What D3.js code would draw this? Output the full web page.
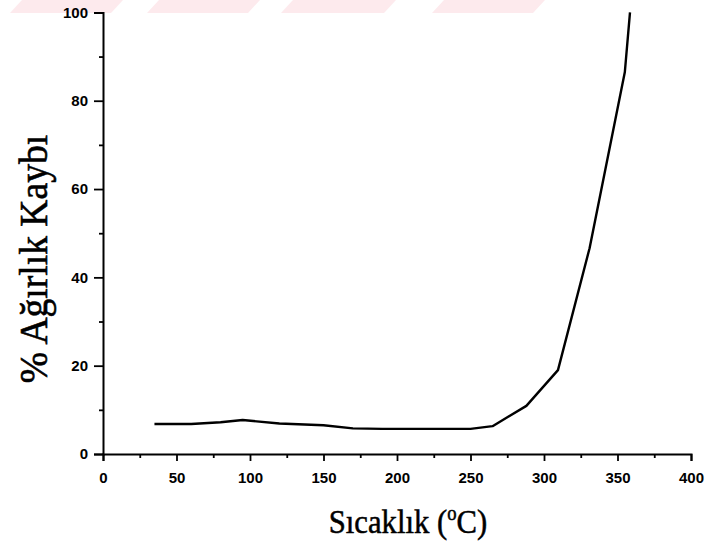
<!DOCTYPE html>
<html><head><meta charset="utf-8">
<script src="https://cdn.jsdelivr.net/npm/d3@7"></script>
<style>body{margin:0;background:#fff}svg{display:block}</style>
</head><body>
<svg id="c" width="707" height="546"></svg>
<script>
const temps  = [35, 60, 80, 95, 120, 150, 170, 190, 250, 265, 288, 309.5, 331, 355, 358.5];
const losses = [6.8, 6.8, 7.2, 7.7, 6.9, 6.5, 5.8, 5.7, 5.7, 6.3, 10.9, 19, 46.6, 86.5, 100];
const xTicks = [0, 50, 100, 150, 200, 250, 300, 350, 400];
const yTicks = [0, 20, 40, 60, 80, 100];
const xTitle = "Sıcaklık (";
const yTitle = "% Ağırlık Kaybı";

const svg = d3.select("#c");
const x = d3.scaleLinear().domain([0, 400]).range([103, 691]);
const y = d3.scaleLinear().domain([0, 100]).range([454, 12.4]);

// faint watermark
const wm = [[10,123],[147,260],[281,396],[432,545]];
svg.append("g").selectAll("path").data(wm).join("path")
  .attr("d", d => `M${d[0]+12},0 L${d[1]},0 L${d[1]-12},13 L${d[0]},13 Z`)
  .attr("fill", "#fdeaed");

const lab = "font-family:Arial,'Liberation Sans',sans-serif;font-weight:bold;font-size:15px";

// x axis
svg.append("g").attr("transform", "translate(0,454)")
  .call(d3.axisBottom(x).tickValues(xTicks).tickSize(7).tickPadding(11).tickFormat(d3.format("d")));
svg.append("g").attr("transform", "translate(0,454)")
  .call(d3.axisBottom(x).tickValues(d3.range(25, 400, 50)).tickSize(4).tickFormat(""))
  .call(g => g.select(".domain").remove());
// y axis
svg.append("g").attr("transform", "translate(103,0)")
  .call(d3.axisLeft(y).tickValues(yTicks).tickSize(9).tickPadding(6).tickFormat(d3.format("d")));
svg.append("g").attr("transform", "translate(103,0)")
  .call(d3.axisLeft(y).tickValues(d3.range(10, 100, 20)).tickSize(4).tickFormat(""))
  .call(g => g.select(".domain").remove());

svg.selectAll(".domain").attr("stroke", "#000").attr("stroke-width", 2);
svg.selectAll(".tick line").attr("stroke", "#000").attr("stroke-width", 1.8);
svg.selectAll(".tick text").attr("style", lab).attr("fill", "#000");

// curve
svg.append("path")
  .datum(temps.map((t, i) => [t, losses[i]]))
  .attr("fill", "none").attr("stroke", "#000").attr("stroke-width", 2.4)
  .attr("stroke-linejoin", "round")
  .attr("d", d3.line().x(d => x(d[0])).y(d => y(d[1])));

// titles
const serif = "'Liberation Serif','Times New Roman',serif";
const xt = svg.append("text").attr("transform", "translate(408,533) scale(0.93,1)").attr("text-anchor", "middle")
  .attr("font-family", serif).attr("font-size", 33).attr("fill", "#000")
  .attr("stroke", "#000").attr("stroke-width", 0.5);
xt.append("tspan").text(xTitle);
xt.append("tspan").attr("font-size", 20).attr("dy", -13).text("o");
xt.append("tspan").attr("dy", 13).text("C)");

svg.append("text").attr("transform", "translate(47,259) rotate(-90) scale(0.94,1)").attr("text-anchor", "middle")
  .attr("font-family", serif).attr("font-size", 40).attr("fill", "#000")
  .attr("stroke", "#000").attr("stroke-width", 0.6).text(yTitle);
</script>
</body></html>
